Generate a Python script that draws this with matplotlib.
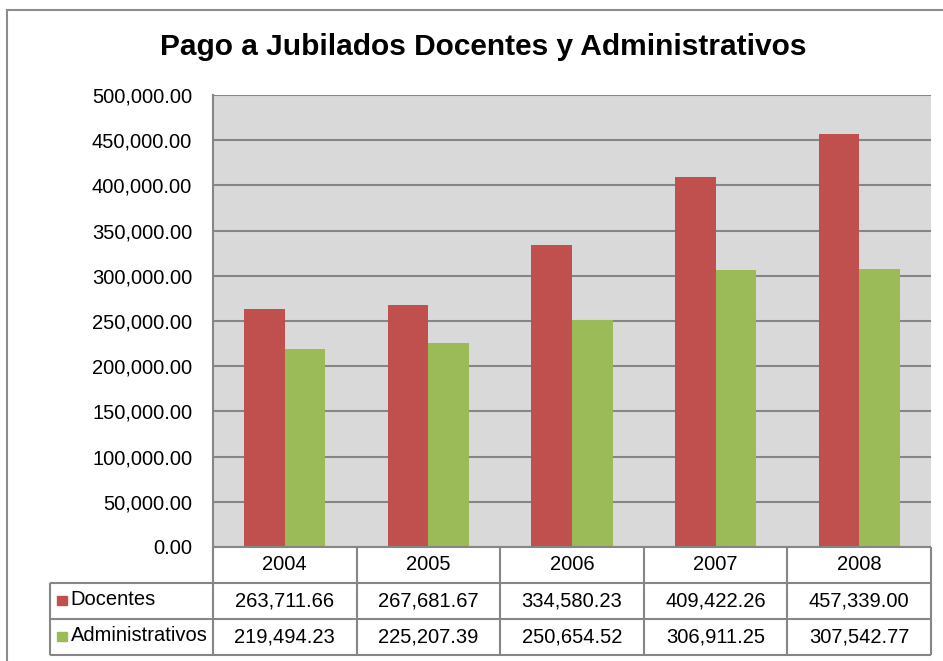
import numpy as np
import matplotlib
matplotlib.use("Agg")
import matplotlib.pyplot as plt
from matplotlib.lines import Line2D
from matplotlib.patches import Rectangle

plt.rcParams['font.family'] = ['Liberation Sans', 'DejaVu Sans']

years = ['2004', '2005', '2006', '2007', '2008']
docentes = [263711.66, 267681.67, 334580.23, 409422.26, 457339.00]
administrativos = [219494.23, 225207.39, 250654.52, 306911.25, 307542.77]
series_names = ['Docentes', 'Administrativos']
colors = ['#C0504D', '#9BBB59']
title = 'Pago a Jubilados Docentes y Administrativos'

W, H = 943, 661
fig = plt.figure(figsize=(W / 100, H / 100), dpi=100)

def box(x0, y0, x1, y1):
    # pixel box (top-left origin) -> figure fraction rect
    return [x0 / W, 1 - y1 / H, (x1 - x0) / W, (y1 - y0) / H]

grid_c = '#868686'

# chart frame (cropped on right/bottom)
fig.add_artist(Line2D([7 / W, 7 / W], [0, 1 - 10 / H], color='#8C8C8C', lw=1.5))
fig.add_artist(Line2D([7 / W, 1], [1 - 10 / H, 1 - 10 / H], color='#8C8C8C', lw=1.5))

fig.text(483 / W, 1 - 47 / H, title, ha='center', va='center',
         fontsize=21.5, fontweight='bold')

# main plot
ax = fig.add_axes(box(213, 95, 931, 547))
ax.set_facecolor('#D9D9D9')
x = np.arange(len(years))
bw = 0.283
ax.bar(x - bw / 2, docentes, bw, color=colors[0], zorder=3)
ax.bar(x + bw / 2, administrativos, bw, color=colors[1], zorder=3)
ax.set_xlim(-0.5, len(years) - 0.5)
ax.set_ylim(0, 500000)
ax.set_yticks(np.arange(0, 500001, 50000))
ax.set_yticklabels([f'{v:,.2f}' for v in np.arange(0, 500001, 50000)], fontsize=14.5)
ax.tick_params(axis='y', length=0, pad=15)
ax.set_xticks([])
ax.grid(axis='y', color=grid_c, lw=1.5, zorder=1)
for s in ['top', 'right']:
    ax.spines[s].set_visible(False)
ax.spines['left'].set_color(grid_c)
ax.spines['left'].set_linewidth(1.5)
ax.spines['bottom'].set_visible(False)

# data table below the plot, same category scale as the bars
ext = (213 - 50) / ((931 - 213) / len(years))
tx = fig.add_axes(box(50, 547, 931, 655))
tx.set_xlim(-0.5 - ext, len(years) - 0.5)
tx.set_ylim(3, 0)
tx.axis('off')
lc = dict(color=grid_c, lw=1.5, solid_capstyle='butt', clip_on=False)
left = -0.5 - ext
right = len(years) - 0.5
tx.plot([-0.5, right], [0, 0], **lc)
for r in [1, 2, 3]:
    tx.plot([left, right], [r, r], **lc)
tx.plot([left, left], [1, 3], **lc)
for k in range(len(years) + 1):
    tx.plot([k - 0.5, k - 0.5], [0, 3], **lc)
for i, yr in enumerate(years):
    tx.text(i, 0.5, yr, ha='center', va='center', fontsize=14.5)
for r, (name, vals, c) in enumerate(zip(series_names, [docentes, administrativos], colors), start=1):
    tx.add_patch(Rectangle((left + 0.05, r + 0.35), 0.068, 0.26, color=c, clip_on=False))
    tx.text(left + 0.145, r + 0.47, name, ha='left', va='center', fontsize=14.5)
    for i, v in enumerate(vals):
        tx.text(i, r + 0.5, f'{v:,.2f}', ha='center', va='center', fontsize=14.5)

fig.savefig('out.png', dpi=100)
